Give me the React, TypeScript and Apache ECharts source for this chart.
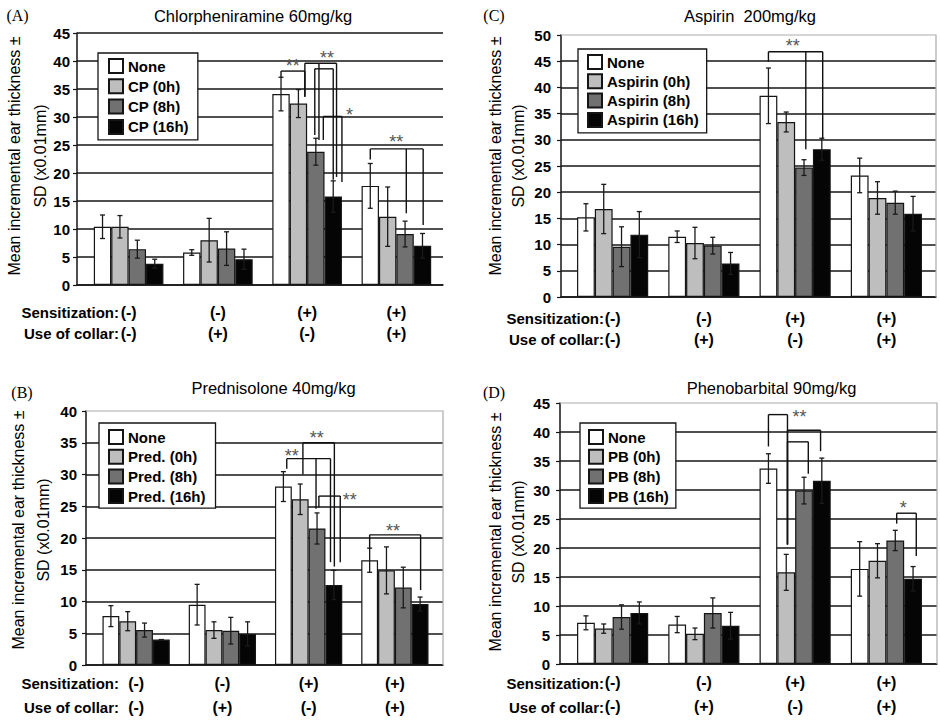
import React, { useEffect, useRef } from 'react';
import * as echarts from 'echarts';

// ---------------- data ----------------
const sensitization = ['(-)', '(-)', '(+)', '(+)'];
const collar = ['(-)', '(+)', '(-)', '(+)'];
const yTicksStep = 5;

// Panel A: Chlorpheniramine
const namesA = ['None', 'CP (0h)', 'CP (8h)', 'CP (16h)'];
const meansA = [
  [10.4, 5.8, 34.1, 17.7],
  [10.4, 8.0, 32.4, 12.2],
  [6.4, 6.5, 23.8, 9.1],
  [3.8, 4.6, 15.8, 7.0],
];
const sdA = [
  [2.1, 0.5, 3.0, 4.0],
  [2.0, 3.9, 2.5, 5.3],
  [1.6, 3.0, 2.4, 2.3],
  [0.8, 1.8, 2.8, 2.2],
];
const bracketsA = [
  { g: 2, top: 38.2, legs: [[0, 37.0], [1.37, 33.6]], label: '**', lp: [0.68, 39.9] },
  { g: 2, top: 39.6, legs: [[1.37, 33.6], [2.18, 25.9], [3.19, 19.3]], label: '**', lp: [2.64, 41.2] },
  { g: 2, top: 38.6, legs: [[1.94, 26.8], [3.0, 18.8]], label: '', lp: [0, 0] },
  { g: 2, top: 30.1, legs: [[2.43, 25.9], [3.5, 18.4]], label: '*', lp: [3.94, 31.1] },
  { g: 3, top: 24.3, legs: [[0, 22.4], [2.07, 12.8], [3.04, 10.7]], label: '**', lp: [1.5, 26.2] },
];

// Panel C: Aspirin
const namesC = ['None', 'Aspirin (0h)', 'Aspirin (8h)', 'Aspirin (16h)'];
const meansC = [
  [15.2, 11.5, 38.4, 23.2],
  [16.8, 10.3, 33.4, 18.9],
  [9.6, 9.8, 24.7, 18.0],
  [11.9, 6.4, 28.2, 15.9],
];
const sdC = [
  [2.6, 1.1, 5.3, 3.3],
  [4.7, 3.0, 1.9, 3.1],
  [3.8, 1.6, 1.5, 2.2],
  [4.4, 2.1, 2.1, 3.3],
];
const bracketsC = [
  { g: 2, top: 46.8, legs: [[0, 44.9], [2.1, 28.2], [3.05, 30.3]], label: '**', lp: [1.37, 48.7] },
];

// Panel B: Prednisolone
const namesB = ['None', 'Pred. (0h)', 'Pred. (8h)', 'Pred. (16h)'];
const meansB = [
  [7.7, 9.5, 28.1, 16.5],
  [6.9, 5.5, 26.1, 14.9],
  [5.5, 5.4, 21.5, 12.2],
  [4.0, 4.9, 12.6, 9.6],
];
const sdB = [
  [1.65, 3.2, 2.35, 1.9],
  [1.5, 1.3, 2.4, 3.7],
  [1.1, 2.1, 2.45, 3.2],
  [0, 1.9, 2.3, 1.1],
];
const bracketsB = [
  { g: 2, top: 32.5, legs: [[0.2, 30.9], [1.94, 24.6], [2.8, 16.2]], label: '**', lp: [0.5, 33.6] },
  { g: 2, top: 35.0, legs: [[1.16, 30.0], [3.03, 15.5]], label: '**', lp: [1.98, 36.4] },
  { g: 2, top: 26.6, legs: [[2.11, 24.8], [3.38, 16.2]], label: '**', lp: [3.95, 26.6] },
  { g: 3, top: 20.5, legs: [[0, 18.3], [3.03, 11.8]], label: '**', lp: [1.39, 21.8] },
];

// Panel D: Phenobarbital
const namesD = ['None', 'PB (0h)', 'PB (8h)', 'PB (16h)'];
const meansD = [
  [7.1, 6.8, 33.7, 16.4],
  [6.1, 5.2, 15.8, 17.8],
  [8.1, 8.8, 29.9, 21.3],
  [8.8, 6.6, 31.6, 14.7],
];
const sdD = [
  [1.2, 1.4, 2.55, 4.7],
  [0.8, 1.0, 3.1, 2.95],
  [2.1, 2.6, 2.3, 1.75],
  [1.9, 2.3, 3.9, 2.1],
];
const bracketsD = [
  { g: 2, top: 43.0, legs: [[0, 37.5], [1.07, 20.6]], label: '**', lp: [1.74, 43.2] },
  { g: 2, top: 40.3, legs: [[1.07, 20.6], [2.93, 36.7]], label: '', lp: [0, 0] },
  { g: 2, top: 38.3, legs: [[1.07, 20.6], [2.24, 32.8]], label: '', lp: [0, 0] },
  { g: 3, top: 26.0, legs: [[2.08, 24.2], [3.18, 18.6]], label: '*', lp: [2.45, 27.6] },
];

const titles = ['Chlorpheniramine 60mg/kg', 'Aspirin  200mg/kg', 'Prednisolone 40mg/kg', 'Phenobarbital 90mg/kg'];
const letters = ['(A)', '(C)', '(B)', '(D)'];
const yMaxes = [45, 50, 40, 45];
const yNameLine1 = 'Mean incremental ear thickness ±';
const yNameLine2 = 'SD (x0.01mm)';
const rowLabel1 = 'Sensitization:';
const rowLabel2 = 'Use of collar:';

// ---------------- styles / layout ----------------
const FONT = '"Liberation Sans", Arial, sans-serif';
const SERIF = '"Liberation Serif", "Times New Roman", serif';
const fillColors = ['#ffffff', '#bebebe', '#717171', '#050505'];
const CAT_GAP = 0.22;

const layouts = [
  {
    frame: { left: 77, top: 33, width: 366, height: 252 }, inner: { left: 84, width: 357 },
    yLabelMargin: 7, xLabelMargin: 16.5, xLineHeight: 21,
    legend: { left: 98, top: 53, padding: [5, 9, 5, 10], itemGap: 4.3 },
    title: [253, 16], letter: [17.5, 15], yName: [14, 40, 156], rows: [119, 312, 333], border: false,
  },
  {
    frame: { left: 561, top: 35, width: 375, height: 262 }, inner: { left: 567, width: 365 },
    yLabelMargin: 10, xLabelMargin: 10.5, xLineHeight: 21,
    legend: { left: 578, top: 49, padding: [5, 8, 5, 9], itemGap: 3.3 },
    title: [750, 16], letter: [494, 15], yName: [495, 518, 156], rows: [604, 318, 339], border: true,
  },
  {
    frame: { left: 86, top: 411, width: 357, height: 254 }, inner: { left: 93, width: 345 },
    yLabelMargin: 9, xLabelMargin: 6, xLineHeight: 24,
    legend: { left: 99, top: 423, padding: [6, 10, 4, 9], itemGap: 3.7 },
    title: [273.5, 388], letter: [22, 392], yName: [18.5, 43.5, 530], rows: [119, 683, 707], border: true,
  },
  {
    frame: { left: 560, top: 403, width: 377, height: 261 }, inner: { left: 567, width: 365 },
    yLabelMargin: 10, xLabelMargin: 6.5, xLineHeight: 24,
    legend: { left: 580, top: 423, padding: [6, 7, 4, 8], itemGap: 3.7 },
    title: [771.5, 388], letter: [494, 392], yName: [495, 518.5, 532], rows: [604, 683, 707], border: true,
  },
];

const panels = [
  { names: namesA, means: meansA, sds: sdA, brackets: bracketsA },
  { names: namesC, means: meansC, sds: sdC, brackets: bracketsC },
  { names: namesB, means: meansB, sds: sdB, brackets: bracketsB },
  { names: namesD, means: meansD, sds: sdD, brackets: bracketsD },
];

function barX(api: any, g: number, pos: number) {
  const c = api.coord([g, 0])[0];
  const band = api.size([1, 0])[0];
  const bw = (band * (1 - CAT_GAP)) / 4;
  return c + (pos - 1.5) * bw;
}

function buildOption() {
  const categoryLabels = sensitization.map((s, i) => s + '\n' + collar[i]);
  const grid: any[] = [];
  const xAxis: any[] = [];
  const yAxis: any[] = [];
  const series: any[] = [];
  const legend: any[] = [];
  const graphic: any[] = [];

  panels.forEach((p, k) => {
    const L = layouts[k];
    const fi = 2 * k;
    const ii = 2 * k + 1;
    const yMax = yMaxes[k];
    grid.push({ left: L.frame.left, top: L.frame.top, width: L.frame.width, height: L.frame.height });
    grid.push({ left: L.inner.left, top: L.frame.top, width: L.inner.width, height: L.frame.height });
    xAxis.push({
      gridIndex: fi, type: 'value', min: 0, max: 1,
      axisLine: { show: true, onZero: false, lineStyle: { color: '#151515', width: 1.5 } },
      axisTick: { show: false }, axisLabel: { show: false }, splitLine: { show: false },
    });
    xAxis.push({
      gridIndex: ii, type: 'category', data: categoryLabels,
      axisLine: { show: false }, axisTick: { show: false }, splitLine: { show: false },
      axisLabel: {
        interval: 0, margin: L.xLabelMargin, fontSize: 16, fontWeight: 'bold',
        fontFamily: FONT, color: '#000', lineHeight: L.xLineHeight,
      },
    });
    yAxis.push({
      gridIndex: fi, type: 'value', min: 0, max: yMax, interval: yTicksStep,
      axisLine: { show: true, lineStyle: { color: '#151515', width: 1.5 } },
      axisTick: { show: true, length: 4, lineStyle: { color: '#151515', width: 1.2 } },
      axisLabel: { margin: L.yLabelMargin, fontSize: 15, fontWeight: 'bold', fontFamily: FONT, color: '#000' },
      splitLine: { show: true, showMaxLine: !L.border, lineStyle: { color: '#161616', width: 1.5 } },
    });
    yAxis.push({ gridIndex: ii, type: 'value', min: 0, max: yMax, show: false });

    p.names.forEach((name, t) => {
      series.push({
        type: 'bar', name, xAxisIndex: ii, yAxisIndex: ii,
        data: p.means[t],
        barGap: '0%', barCategoryGap: (CAT_GAP * 100) + '%',
        itemStyle: { color: fillColors[t], borderColor: '#151515', borderWidth: 1.2 },
        z: 2,
      });
    });

    const errData: number[][] = [];
    p.means.forEach((row, t) => {
      row.forEach((m, g) => {
        errData.push([g, t, m - p.sds[t][g], m + p.sds[t][g]]);
      });
    });
    series.push({
      type: 'custom', xAxisIndex: ii, yAxisIndex: ii, z: 4, data: errData,
      renderItem: (params: any, api: any) => {
        const g = api.value(0);
        const t = api.value(1);
        const lo = api.coord([g, api.value(2)])[1];
        const hi = api.coord([g, api.value(3)])[1];
        const x = barX(api, g, t);
        const cap = 2.5;
        const style = { stroke: '#1a1a1a', lineWidth: 1.3 };
        return {
          type: 'group',
          children: [
            { type: 'line', shape: { x1: x, y1: lo, x2: x, y2: hi }, style },
            { type: 'line', shape: { x1: x - cap, y1: hi, x2: x + cap, y2: hi }, style },
            { type: 'line', shape: { x1: x - cap, y1: lo, x2: x + cap, y2: lo }, style },
          ],
        };
      },
    });

    const brs = p.brackets;
    series.push({
      type: 'custom', xAxisIndex: ii, yAxisIndex: ii, z: 5,
      data: brs.map((b) => [b.g, b.top]),
      renderItem: (params: any, api: any) => {
        const b = brs[params.dataIndex];
        const yTop = api.coord([b.g, b.top])[1];
        const xs = b.legs.map((l) => barX(api, b.g, l[0]));
        const style = { stroke: '#111', lineWidth: 1.4 };
        const children: any[] = [
          { type: 'line', shape: { x1: Math.min(...xs), y1: yTop, x2: Math.max(...xs), y2: yTop }, style },
        ];
        b.legs.forEach((l, j) => {
          const yb = api.coord([b.g, l[1]])[1];
          children.push({ type: 'line', shape: { x1: xs[j], y1: yTop, x2: xs[j], y2: yb }, style });
        });
        if (b.label) {
          const lx = barX(api, b.g, b.lp[0]);
          const ly = api.coord([b.g, b.lp[1]])[1] + 4;
          children.push({
            type: 'text',
            style: {
              text: b.label, x: lx, y: ly, fill: '#555', fontSize: 18, fontFamily: FONT,
              align: 'center', verticalAlign: 'middle', textAlign: 'center', textVerticalAlign: 'middle',
            },
          });
        }
        return { type: 'group', children };
      },
    });

    legend.push({
      orient: 'vertical', left: L.legend.left, top: L.legend.top, padding: L.legend.padding,
      itemGap: L.legend.itemGap, itemWidth: 14, itemHeight: 14, icon: 'rect',
      backgroundColor: '#ffffff', borderColor: '#151515', borderWidth: 1.3, borderRadius: 0,
      selectedMode: false, data: p.names,
      textStyle: { fontFamily: FONT, fontSize: 15, fontWeight: 'bold', color: '#000', lineHeight: 16 },
    });

    const textStyle = (txt: string, size: number, family: string, weight: string, align: string) => ({
      text: txt, fontSize: size, fontFamily: family, fontWeight: weight, fill: '#000',
      align, verticalAlign: 'middle', textAlign: align, textVerticalAlign: 'middle',
    });
    graphic.push({ type: 'text', x: L.title[0], y: L.title[1], z: 20, style: textStyle(titles[k], 16.5, FONT, 'normal', 'center') });
    graphic.push({ type: 'text', x: L.letter[0], y: L.letter[1], z: 20, style: textStyle(letters[k], 16, SERIF, 'normal', 'center') });
    graphic.push({ type: 'text', x: L.yName[0], y: L.yName[2], rotation: Math.PI / 2, z: 20, style: textStyle(yNameLine1, 16, FONT, 'normal', 'center') });
    graphic.push({ type: 'text', x: L.yName[1], y: L.yName[2], rotation: Math.PI / 2, z: 20, style: textStyle(yNameLine2, 16, FONT, 'normal', 'center') });
    graphic.push({ type: 'text', x: L.rows[0], y: L.rows[1], z: 20, style: textStyle(rowLabel1, 15, FONT, 'bold', 'right') });
    graphic.push({ type: 'text', x: L.rows[0], y: L.rows[2], z: 20, style: textStyle(rowLabel2, 15, FONT, 'bold', 'right') });
    if (L.border) {
      const l = L.frame.left, t = L.frame.top, r = L.frame.left + L.frame.width, b = L.frame.top + L.frame.height;
      graphic.push({
        type: 'polyline', z: 20,
        shape: { points: [[l, t], [r, t], [r, b]] },
        style: { stroke: '#ababab', lineWidth: 1.2, fill: 'none' },
      });
    }
  });

  return {
    animation: false,
    backgroundColor: '#ffffff',
    grid, xAxis, yAxis, series, legend, graphic,
  };
}

export default function App() {
  const ref = useRef<HTMLDivElement>(null);
  useEffect(() => {
    document.body.style.margin = '0';
    if (!ref.current) return;
    const chart = echarts.init(ref.current, null, { renderer: 'svg' });
    chart.setOption(buildOption() as any);
    return () => chart.dispose();
  }, []);
  return <div ref={ref} style={{ position: 'absolute', left: 0, top: 0, width: 940, height: 723 }} />;
}
